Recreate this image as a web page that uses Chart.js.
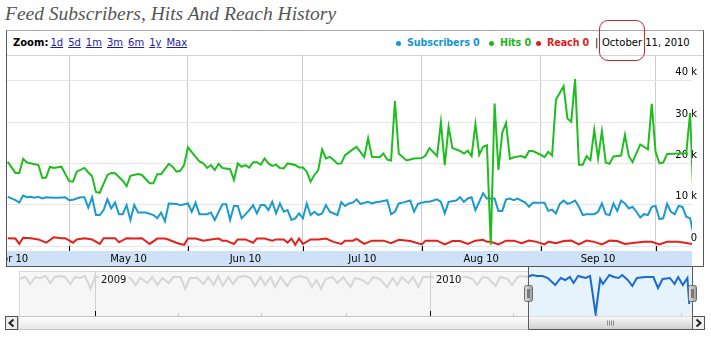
<!DOCTYPE html>
<html>
<head>
<meta charset="utf-8">
<script src="https://cdn.jsdelivr.net/npm/chart.js@4.4.1/dist/chart.umd.min.js"></script>
<style>
body{margin:0;width:711px;height:338px;background:#fff;position:relative;overflow:hidden;font-family:"DejaVu Sans",sans-serif}
#title{position:absolute;left:5px;top:4px;font:italic 19.5px/20px "Liberation Serif",serif;color:#555;white-space:nowrap}
#box{position:absolute;left:6px;top:30px;width:698px;height:237px;box-sizing:border-box;border:1px solid #555;border-top-color:#a8a8a8}
#head{position:absolute;left:0;top:0;right:0;height:24px;border-bottom:1px solid #d4d4d4;font-size:10px;line-height:12px;white-space:nowrap}
#zoom{position:absolute;left:6px;top:6px}
#zoom b{margin-right:2px}
#zoom a{color:#1c1ca8;text-decoration:underline;margin-right:5px}
#head .lg{position:absolute;top:6px}
#head b.lg{font-size:9.6px;letter-spacing:-0.1px}
#head .dot{position:absolute;top:10px;width:5px;height:5px;border-radius:50%}
#note{position:absolute;left:599px;top:20px;width:46px;height:41px;box-sizing:border-box;border:1px solid #c4262e;border-radius:9px}
canvas{position:absolute;left:0;top:0}
</style>
</head>
<body>
<div id="title">Feed Subscribers, Hits And Reach History</div>
<div id="box">
  <div id="head">
    <div id="zoom"><b>Zoom:</b><a>1d</a><a>5d</a><a>1m</a><a>3m</a><a>6m</a><a>1y</a><a>Max</a></div>
    <span class="dot" style="left:389px;background:#1a96cf"></span><b class="lg" style="left:400px;color:#1a96cf">Subscribers 0</b>
    <span class="dot" style="left:482px;background:#22b422"></span><b class="lg" style="left:493px;color:#22b422">Hits 0</b>
    <span class="dot" style="left:529px;background:#e01c1c"></span><b class="lg" style="left:540px;color:#e01c1c">Reach 0</b>
    <span class="lg" style="left:588px">|</span><span class="lg" style="left:595px">October 11, 2010</span>
  </div>
</div>
<canvas id="main" width="711" height="267"></canvas>
<canvas id="nav" width="711" height="338"></canvas>
<div id="note"></div>
<script>
// main chart: x = days from 1 May 2010, y = thousands
const monthStarts = [-30, 0, 31, 61, 92, 123, 153, 184];
const monthLabels = ['Apr 10', 'May 10', 'Jun 10', 'Jul 10', 'Aug 10', 'Sep 10', 'Oct 10'];
const yTicks = [0, 10, 20, 30, 40];

const hitsHistory = [
  [-16,20.4],[-14,17.7],[-13,17.7],[-12,21.1],[-11,20.2],[-8,19.6],[-7,16.5],[-6,16.6],[-5,19.2],[-4,18.9],
  [-2,19.2],[0,15.7],[1,15.6],[2,18.0],[4,18.9],[5,17.8],[6,16.9],[7,13.1],[8,12.9],[10,17.2],
  [11,17.7],[12,17.6],[14,15.8],[15,14.5],[16,17.0],[18,17.4],[19,17.2],[21,15.2],[22,15.2],[23,17.4],
  [24,17.4],[26,19.9],[27,19.2],[28,18.0],[29,18.2],[30,19.6],[31,23.9],[33,21.6],[34,20.5],[35,20.0],
  [36,18.9],[37,19.6],[38,18.4],[39,19.9],[40,18.9],[42,18.6],[43,16.0],[44,20.0],[45,19.2],[46,19.6],
  [47,19.0],[48,20.3],[49,20.3],[50,19.7],[51,21.2],[52,20.0],[53,19.4],[54,19.7],[55,18.9],[56,18.8],
  [57,20.0],[59,19.6],[60,19.0],[61,19.0],[62,18.0],[63,15.6],[64,17.2],[65,18.4],[66,23.4],[67,21.2],
  [68,21.6],[69,20.8],[70,19.9],[71,20.0],[72,22.0],[74,23.4],[75,24.0],[77,21.5],[78,26.1],[79,21.6],
  [81,21.5],[82,22.4],[83,20.9],[84,20.7],[85,35.1],[86,22.4],[88,20.7],[90,21.2],[92,21.3],[93,21.9],
  [94,23.7],[96,21.8],[97,30.0],[98,19.6],[99,28.9],[100,23.7],[102,23.0],[103,22.4],[104,23.1],[105,21.8],
  [106,29.5],[107,22.1],[108,24.0],[109,24.4],[110,0.3],[111,34.5],[112,18.4],[113,27.4],[114,29.8],[115,21.1],
  [116,21.5],[118,21.8],[119,21.4],[120,23.0],[121,23.0],[123,22.1],[124,21.5],[125,22.8],[126,21.9],[127,35.4],
  [129,38.7],[130,30.9],[131,30.1],[132,40.4],[133,19.7],[134,19.7],[135,21.8],[136,20.8],[137,28.1],[138,21.2],
  [139,27.8],[140,20.2],[141,19.9],[142,21.7],[144,21.9],[145,26.9],[146,21.8],[147,20.3],[149,24.6],[151,23.4],
  [152,34.4],[153,22.8],[154,20.0],[155,20.2],[156,22.3],[159,22.4],[161,22.4],[162,32.2],[163,9.0]
];

const subscribersHistory = [
  [-16,11.9],[-14,11.1],[-13,10.5],[-12,12.2],[-11,11.8],[-10,11.9],[-9,11.7],[-8,11.9],[-7,11.5],[-6,11.8],
  [-4,11.7],[-3,11.7],[-1,11.8],[0,11.1],[1,11.2],[3,11.8],[4,11.8],[5,9.3],[6,11.8],[7,7.5],
  [8,7.5],[9,8.7],[10,11.3],[11,9.1],[12,10.5],[13,7.7],[14,7.7],[15,9.9],[16,6.3],[17,9.9],
  [18,8.1],[20,8.1],[22,7.5],[23,6.7],[24,8.1],[25,6.0],[26,10.3],[28,10.2],[29,9.9],[31,10.3],
  [32,8.3],[33,10.5],[34,7.7],[36,7.7],[37,8.1],[38,6.3],[40,10.1],[41,10.1],[42,6.3],[43,9.7],
  [44,9.7],[45,6.7],[47,8.7],[48,9.9],[49,7.9],[50,9.9],[51,9.9],[52,8.7],[53,10.7],[54,7.9],
  [55,10.3],[56,8.3],[57,8.7],[58,6.3],[59,6.7],[60,7.9],[61,6.7],[62,10.3],[63,7.5],[64,8.3],
  [65,7.5],[66,7.9],[67,9.9],[68,8.3],[70,7.5],[71,10.6],[72,9.7],[73,10.3],[74,10.5],[75,11.3],
  [76,10.2],[78,10.7],[79,10.3],[80,10.6],[81,10.7],[83,11.1],[84,7.7],[85,8.3],[86,10.3],[87,10.5],
  [89,11.0],[90,8.3],[91,10.2],[93,10.7],[94,10.7],[96,11.3],[97,10.7],[98,7.9],[99,10.7],[101,11.0],
  [102,11.8],[103,10.7],[104,11.5],[105,11.8],[106,8.7],[107,10.7],[108,12.8],[109,11.5],[110,11.5],[111,11.5],
  [112,8.5],[113,8.5],[114,11.3],[115,11.5],[116,11.1],[117,11.5],[119,10.5],[120,9.5],[121,10.5],[123,10.5],
  [124,10.5],[125,8.5],[126,8.8],[127,7.9],[128,10.2],[129,11.0],[130,10.2],[131,10.5],[132,11.0],[133,9.5],
  [134,7.5],[135,7.7],[137,7.7],[138,8.3],[139,10.3],[140,7.7],[141,7.5],[142,10.3],[143,8.5],[144,11.0],
  [145,10.3],[146,9.1],[147,9.5],[148,8.3],[149,6.9],[150,7.7],[151,7.5],[152,9.5],[153,9.7],[154,6.5],
  [155,6.7],[156,10.2],[157,8.3],[158,7.7],[159,9.7],[160,9.5],[161,7.1],[162,6.7],[163,2.3]
];

const reachHistory = [
  [-16,1.9],[-14,1.8],[-13,0.5],[-12,2.0],[-10,1.9],[-8,1.6],[-6,0.8],[-4,2.1],[-2,1.9],[-1,1.9],
  [1,0.8],[2,1.6],[4,1.9],[6,1.6],[8,0.5],[9,1.9],[12,1.9],[13,0.9],[15,1.9],[17,1.8],
  [19,1.9],[21,0.5],[23,1.8],[25,1.8],[26,1.5],[28,0.8],[29,0.5],[30,0.3],[31,1.8],[33,1.8],
  [35,1.3],[37,1.6],[39,1.8],[40,1.3],[41,1.3],[43,0.5],[44,1.6],[46,1.6],[48,0.8],[49,1.8],
  [51,1.8],[53,1.3],[54,1.6],[56,1.6],[57,0.8],[58,1.8],[59,0.3],[60,1.8],[61,0.5],[63,1.6],
  [65,1.6],[67,1.8],[69,1.0],[71,0.5],[72,1.3],[74,1.3],[75,1.7],[77,0.5],[79,1.3],[82,1.3],
  [84,0.7],[86,1.5],[89,1.2],[92,0.4],[93,1.3],[96,1.3],[98,0.4],[100,1.2],[102,1.2],[104,0.5],
  [106,1.3],[108,1.5],[109,1.0],[110,1.0],[112,0.4],[114,1.3],[116,1.3],[118,0.7],[120,1.3],[122,1.0],
  [124,0.4],[125,1.0],[127,0.7],[129,1.2],[131,1.3],[133,0.4],[135,1.3],[137,1.0],[139,0.4],[141,1.3],
  [143,1.2],[145,0.5],[147,0.7],[150,1.0],[152,1.0],[154,0.4],[156,1.0],[159,1.0],[161,0.7],[163,0.4]
];

// overview strip: x = days from 1 Jan 2009
const yearStarts = [0, 365];
const yearLabels = ['2009', '2010'];
const quarterTicks = [90, 181, 273, 455, 546, 638];
const navWindow = [471, 650];
const overviewBefore = [
  [-83,37],[-76,39],[-71,32],[-65,39],[-60,38],[-54,40],[-49,33],[-44,39],[-38,40],[-33,39],
  [-27,32],[-22,39],[-16,38],[-11,40],[-5,27],[0,40],[5,38],[11,32],[16,39],[22,39],
  [27,31],[33,39],[38,38],[44,31],[49,38],[57,33],[62,39],[68,31],[73,38],[80,33],
  [85,39],[93,39],[98,27],[103,38],[111,38],[118,32],[123,39],[129,31],[134,40],[139,30],
  [145,39],[150,32],[156,39],[163,40],[169,38],[174,30],[180,39],[185,31],[191,39],[196,29],
  [202,39],[209,30],[215,38],[223,40],[231,38],[236,29],[241,36],[246,27],[251,37],[258,39],
  [264,33],[270,39],[278,29],[283,38],[291,36],[297,32],[303,39],[310,37],[318,29],[324,38],
  [329,31],[334,39],[341,33],[346,39],[352,29],[357,39],[365,39],[370,38],[376,31],[381,39],
  [387,37],[392,30],[398,39],[405,39],[411,37],[416,31],[422,39],[428,38],[436,30],[441,39],
  [449,37],[454,31],[460,39],[465,40],[471,39]
];
const overviewSelected = [
  [471,39],[476,41],[481,40],[487,40],[493,38],[501,31],[507,38],[512,36],[517,39],[521,33],
  [526,40],[534,38],[539,40],[545,2],[550,37],[553,32],[560,41],[565,39],[570,38],[574,41],
  [580,36],[585,30],[590,38],[599,39],[608,39],[613,28],[618,37],[626,38],[631,32],[635,39],
  [640,31],[645,38],[647,12]
];

const toPoints = rows => rows.map(r => ({x: r[0], y: r[1]}));
const line = (label, rows, color, width) => ({
  label, data: toPoints(rows), borderColor: color, borderWidth: width,
  pointRadius: 0, tension: 0, fill: false
});

const axisBand = {
  id: 'axisBand',
  afterDraw(chart) {
    const {ctx, chartArea: a, scales: {x}} = chart;
    ctx.save();
    ctx.fillStyle = '#cfe1f6';
    ctx.fillRect(a.left, a.bottom, a.right - a.left, 15);
    ctx.strokeStyle = '#000';
    ctx.lineWidth = 1;
    monthStarts.forEach(d => {
      if (d < x.min || d > x.max) return;
      const px = Math.round(x.getPixelForValue(d)) + 0.5;
      ctx.beginPath();
      ctx.moveTo(px, a.bottom - 5);
      ctx.lineTo(px, a.bottom);
      ctx.stroke();
    });
    ctx.beginPath();
    ctx.rect(a.left, a.bottom, a.right - a.left, 15);
    ctx.clip();
    ctx.fillStyle = '#000';
    ctx.font = '10px "DejaVu Sans"';
    ctx.textAlign = 'center';
    ctx.textBaseline = 'middle';
    monthLabels.forEach((t, i) => {
      const mid = (monthStarts[i] + monthStarts[i + 1]) / 2;
      ctx.fillText(t, x.getPixelForValue(mid), a.bottom + 8);
    });
    ctx.restore();
  }
};

new Chart(document.getElementById('main'), {
  type: 'line',
  data: {
    datasets: [
      line('Hits', hitsHistory, '#1fbd1f', 2),
      line('Subscribers', subscribersHistory, '#1b9acd', 2),
      line('Reach', reachHistory, '#e3211b', 2)
    ]
  },
  options: {
    responsive: false,
    animation: false,
    layout: {padding: {left: 7, top: 55, right: 9, bottom: 16}},
    plugins: {legend: {display: false}, tooltip: {enabled: false}},
    scales: {
      x: {
        type: 'linear', min: -16.2, max: 162.5,
        afterBuildTicks: s => { s.ticks = monthStarts.filter(v => v >= s.min && v <= s.max).map(v => ({value: v})); },
        grid: {color: '#cdcdcd', drawTicks: false},
        border: {display: false},
        ticks: {display: false}
      },
      y: {
        position: 'right', min: -1.21, max: 46.25,
        afterBuildTicks: s => { s.ticks = yTicks.map(v => ({value: v})); },
        grid: {color: '#e6e6e6', drawTicks: false},
        border: {display: false},
        ticks: {
          mirror: true, padding: 5, labelOffset: -8, color: '#000',
          font: {family: 'DejaVu Sans', size: 10},
          callback: v => v === 0 ? '0' : v + ' k'
        }
      }
    }
  },
  plugins: [axisBand]
});

// navigator strip with the selected range and scrollbar
const navFrame = {
  id: 'navFrame',
  beforeDatasetsDraw(chart) {
    const {ctx, chartArea: a, scales: {x}} = chart;
    const w0 = Math.round(x.getPixelForValue(navWindow[0]));
    ctx.save();
    ctx.fillStyle = '#f6f6f6';
    ctx.fillRect(a.left, a.top, a.right - a.left, a.bottom - a.top);
    ctx.strokeStyle = '#dadada';
    ctx.strokeRect(a.left + 0.5, a.top + 0.5, a.right - a.left - 1, a.bottom - a.top);
    ctx.fillStyle = '#e6f3fd';
    ctx.fillRect(w0, a.top - 4, a.right - w0, a.bottom - a.top + 4);
    ctx.strokeStyle = '#d0d0d0';
    yearStarts.forEach(d => {
      const px = Math.round(x.getPixelForValue(d)) + 0.5;
      ctx.beginPath(); ctx.moveTo(px, a.top); ctx.lineTo(px, a.bottom); ctx.stroke();
    });
    ctx.strokeStyle = '#c8c8c8';
    quarterTicks.forEach(d => {
      const px = Math.round(x.getPixelForValue(d)) + 0.5;
      ctx.beginPath(); ctx.moveTo(px, a.bottom - 3); ctx.lineTo(px, a.bottom); ctx.stroke();
    });
    ctx.strokeStyle = '#000';
    yearStarts.forEach(d => {
      const px = Math.round(x.getPixelForValue(d)) + 0.5;
      ctx.beginPath(); ctx.moveTo(px, a.bottom - 5); ctx.lineTo(px, a.bottom); ctx.stroke();
    });
    ctx.restore();
  },
  afterDatasetsDraw(chart) {
    const {ctx, chartArea: a, scales: {x}} = chart;
    const w0 = Math.round(x.getPixelForValue(navWindow[0])) + 0.5;
    const w1 = Math.round(x.getPixelForValue(navWindow[1])) + 0.5;
    ctx.save();
    ctx.font = '10px "DejaVu Sans"';
    ctx.textBaseline = 'middle';
    yearLabels.forEach((t, i) => {
      const px = Math.round(x.getPixelForValue(yearStarts[i])) + 4;
      const tw = ctx.measureText(t).width;
      ctx.fillStyle = '#f6f6f6';
      ctx.fillRect(px, a.top + 2, tw + 4, 13);
      ctx.fillStyle = '#111';
      ctx.fillText(t, px + 2, a.top + 9);
    });
    const sbTop = a.bottom + 0.5, sbH = 13;
    // track
    let g = ctx.createLinearGradient(0, sbTop, 0, sbTop + sbH);
    g.addColorStop(0, '#ffffff'); g.addColorStop(1, '#e6e6e6');
    ctx.fillStyle = g;
    ctx.fillRect(a.left - 1, sbTop, a.right - a.left + 1, sbH);
    ctx.strokeStyle = '#c4c4c4';
    ctx.strokeRect(a.left - 0.5, sbTop, a.right - a.left, sbH);
    // arrow buttons
    [[5.5, -1], [a.right + 0.5, 1]].forEach(([bx, dir]) => {
      ctx.fillStyle = '#eeeeee';
      ctx.fillRect(bx, sbTop, 12, sbH);
      ctx.strokeStyle = '#555';
      ctx.strokeRect(bx, sbTop, 12, sbH);
      ctx.lineWidth = 2;
      ctx.strokeStyle = '#222';
      ctx.beginPath();
      ctx.moveTo(bx + 6 - dir * 2, sbTop + 3);
      ctx.lineTo(bx + 6 + dir * 2, sbTop + sbH / 2);
      ctx.lineTo(bx + 6 - dir * 2, sbTop + sbH - 3);
      ctx.stroke();
      ctx.lineWidth = 1;
    });
    // thumb under the selected range
    g = ctx.createLinearGradient(0, sbTop, 0, sbTop + sbH);
    g.addColorStop(0, '#f8f8f8'); g.addColorStop(1, '#cfcfcf');
    ctx.fillStyle = g;
    ctx.fillRect(w0, sbTop, w1 - w0, sbH);
    ctx.strokeStyle = '#8a8a8a';
    const gx = Math.round((w0 + w1) / 2) - 3.5;
    for (let i = 0; i < 4; i++) {
      ctx.beginPath(); ctx.moveTo(gx + i * 2, sbTop + 4); ctx.lineTo(gx + i * 2, sbTop + 9); ctx.stroke();
    }
    // window outline
    ctx.strokeStyle = '#5a5a5a';
    ctx.beginPath();
    ctx.moveTo(w0, a.top - 4); ctx.lineTo(w0, sbTop + sbH);
    ctx.lineTo(w1, sbTop + sbH); ctx.lineTo(w1, a.top - 4);
    ctx.stroke();
    // drag handles
    [w0, w1].forEach(hx => {
      const hg = ctx.createLinearGradient(hx - 4, 0, hx + 4, 0);
      hg.addColorStop(0, '#e4e4e4'); hg.addColorStop(1, '#9c9c9c');
      ctx.fillStyle = hg;
      ctx.beginPath();
      ctx.roundRect(hx - 4, a.top + 14.5, 8, 16, 2);
      ctx.fill();
      ctx.strokeStyle = '#6c6c6c';
      ctx.stroke();
      ctx.fillStyle = '#7a7a7a';
      ctx.fillRect(hx - 1.5, a.top + 18, 3, 9);
    });
    ctx.restore();
  }
};

new Chart(document.getElementById('nav'), {
  type: 'line',
  data: {
    datasets: [
      line('Overview', overviewBefore, '#d6d6d6', 2),
      line('Selected', overviewSelected, '#1a6ad2', 2)
    ]
  },
  options: {
    responsive: false,
    animation: false,
    layout: {padding: {left: 19, top: 271, right: 19, bottom: 22}},
    plugins: {legend: {display: false}, tooltip: {enabled: false}},
    scales: {
      x: {type: 'linear', display: false, min: -83, max: 650},
      y: {display: false, min: 0, max: 45}
    }
  },
  plugins: [navFrame]
});
</script>
</body>
</html>
